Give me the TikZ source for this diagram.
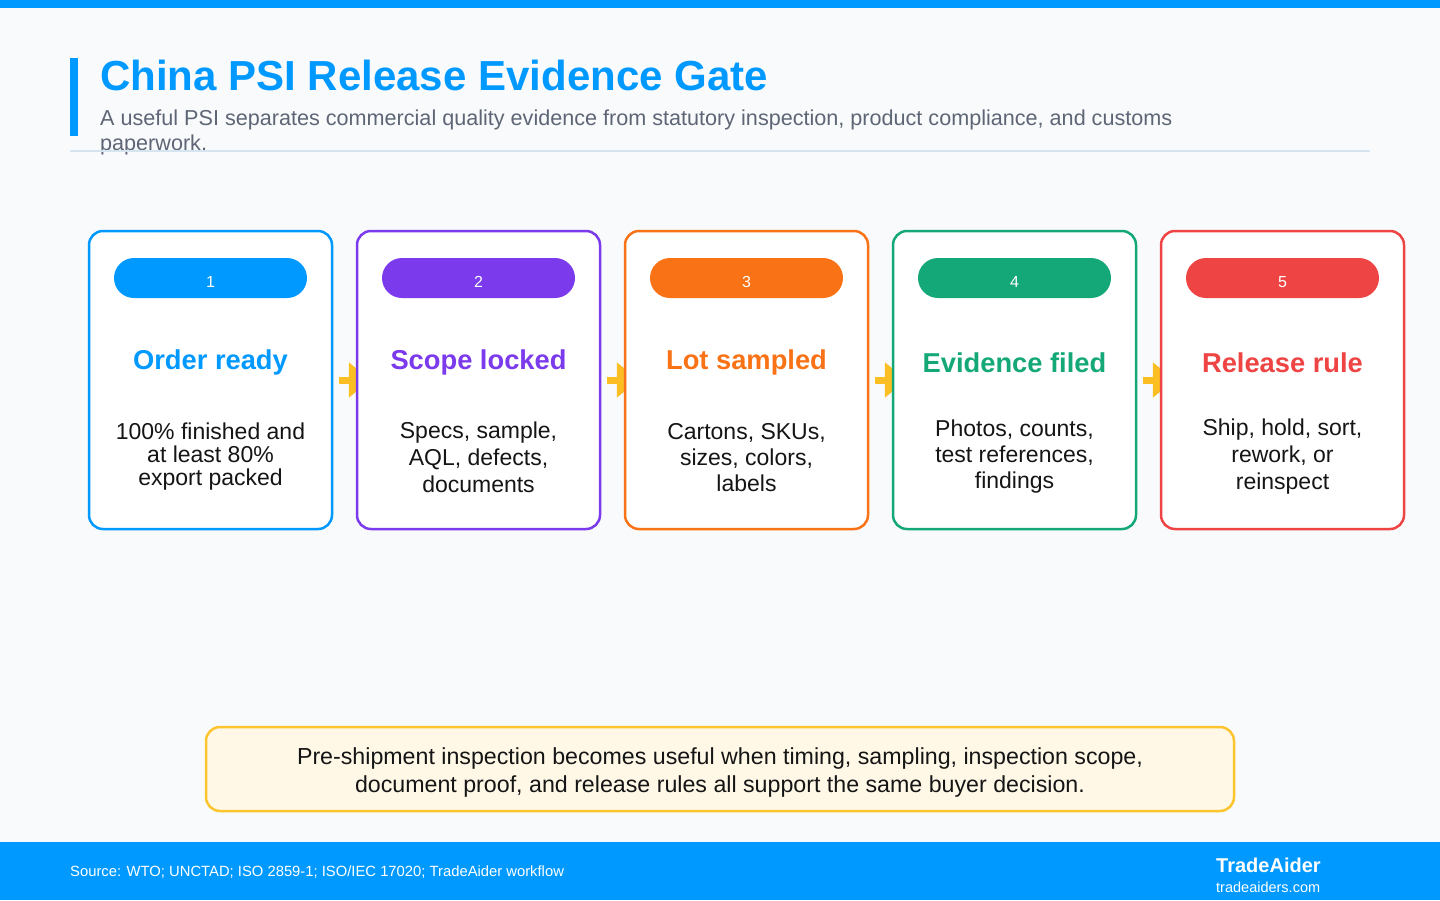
\documentclass[tikz,border=0pt]{standalone}
\usepackage{fontspec}
\setmainfont{Liberation Sans}
\usetikzlibrary{arrows.meta}
\usetikzlibrary{positioning}

\definecolor{pagebg}{HTML}{F8FAFC}
\definecolor{brandblue}{HTML}{0099FF}
\definecolor{stepviolet}{HTML}{7C3AED}
\definecolor{steporange}{HTML}{F97316}
\definecolor{stepgreen}{HTML}{14A878}
\definecolor{stepred}{HTML}{EF4444}
\definecolor{flowyellow}{HTML}{FBBF24}
\definecolor{notefill}{HTML}{FFF8E7}
\definecolor{noteline}{HTML}{FCC42D}
\definecolor{subgray}{HTML}{5E6675}
\definecolor{rulegray}{HTML}{D6E4F0}
\definecolor{inktext}{HTML}{151515}

\pgfdeclarelayer{back}
\pgfdeclarelayer{flow}
\pgfsetlayers{back,flow,main}

\tikzset{
  stepcard/.style={draw=#1, line width=2.5pt, fill=white, rounded corners=14pt,
    minimum width=243pt, minimum height=298pt, inner sep=0pt},
  steppill/.style={fill=#1, rounded corners=20pt, minimum width=193pt,
    minimum height=40pt, inner sep=0pt},
  stepnum/.style={text=white, anchor=base, inner sep=0pt,
    font=\fontsize{16}{19}\selectfont},
  stephead/.style={text=#1, anchor=base, inner sep=0pt,
    font=\fontsize{27.3}{32}\selectfont\bfseries},
  stepbody/.style={text=inktext, align=center, inner sep=0pt,
    font=\fontsize{23}{#1}\selectfont},
  flowarrow/.style={flowyellow, line width=7pt,
    -{Triangle[length=22pt, width=34pt]}},
}

\begin{document}
\begin{tikzpicture}[x=1pt, y=-1pt]
    \useasboundingbox (0,0) rectangle (1440,900);
    \begin{pgfonlayer}{back}
        \fill[pagebg] (0,0) rectangle (1440,900);
    \end{pgfonlayer}

    % header
    \fill[brandblue] (0,0) rectangle (1440,8);
    \fill[brandblue] (70,58) rectangle (78,136);
    \node[anchor=base west, inner sep=0pt, text=brandblue,
          font=\fontsize{42}{48}\selectfont\bfseries] (title) at (100,90.5)
        {China PSI Release Evidence Gate};
    \node[anchor=base west, inner sep=0pt, text=subgray, align=left,
          font=\fontsize{21.6}{25.5}\selectfont] (subtitle) at (100,150.5)
        {A useful PSI separates commercial quality evidence from statutory inspection, product compliance, and customs\\paperwork.};
    \draw[rulegray, line width=2pt] (70,151) -- (1370,151);

    % five steps
    \foreach \i/\col/\head/\hy/\by/\gap/\body in {
        1/brandblue/Order ready/369/457/23/{100\% finished and\\at least 80\%\\export packed},
        2/stepviolet/Scope locked/369/457/27/{Specs, sample,\\AQL, defects,\\documents},
        3/steporange/Lot sampled/369/458/26/{Cartons, SKUs,\\sizes, colors,\\labels},
        4/stepgreen/Evidence filed/372/457/26/{Photos, counts,\\test references,\\findings},
        5/stepred/Release rule/372/457/27/{Ship, hold, sort,\\rework, or\\reinspect}} {
        \node[stepcard=\col] (step\i) at ({210.5+(\i-1)*268},380) {};
        \node[steppill=\col] (pill\i) at ({210.5+(\i-1)*268},278) {};
        \node[stepnum] (num\i) at ({210.5+(\i-1)*268},287) {\i};
        \node[stephead=\col] (head\i) at ({210.5+(\i-1)*268},\hy) {\head};
        \node[stepbody=\gap] (body\i) at ({210.5+(\i-1)*268},\by) {\body};
    }

    \begin{pgfonlayer}{flow}
        \foreach \i [evaluate=\i as \j using int(\i+1)] in {1,...,4}
            \draw[flowarrow] ([xshift=6pt]step\i.east) -- ([xshift=15pt]step\j.west);
    \end{pgfonlayer}

    % takeaway
    \node[draw=noteline, fill=notefill, line width=2.5pt, rounded corners=14pt,
          minimum width=1028pt, minimum height=84pt, inner sep=0pt] (note) at (720,769) {};
    \node[align=center, text=inktext, inner sep=0pt,
          font=\fontsize{23.2}{28}\selectfont] (notetext) at (720,772)
        {Pre-shipment inspection becomes useful when timing, sampling, inspection scope,\\document proof, and release rules all support the same buyer decision.};

    % footer
    \fill[brandblue] (0,842) rectangle (1440,900);
    \node[anchor=base west, inner sep=0pt, text=white,
          font=\fontsize{14.8}{17}\selectfont] (source) at (70,876)
        {Source: WTO; UNCTAD; ISO 2859-1; ISO/IEC 17020; TradeAider workflow};
    \node[anchor=base west, inner sep=0pt, text=white,
          font=\fontsize{20}{24}\selectfont\bfseries] (brand) at (1216,872) {TradeAider};
    \node[anchor=base west, inner sep=0pt, text=white,
          font=\fontsize{14.5}{17}\selectfont] (site) at (1216,892) {tradeaiders.com};
\end{tikzpicture}
\end{document}
